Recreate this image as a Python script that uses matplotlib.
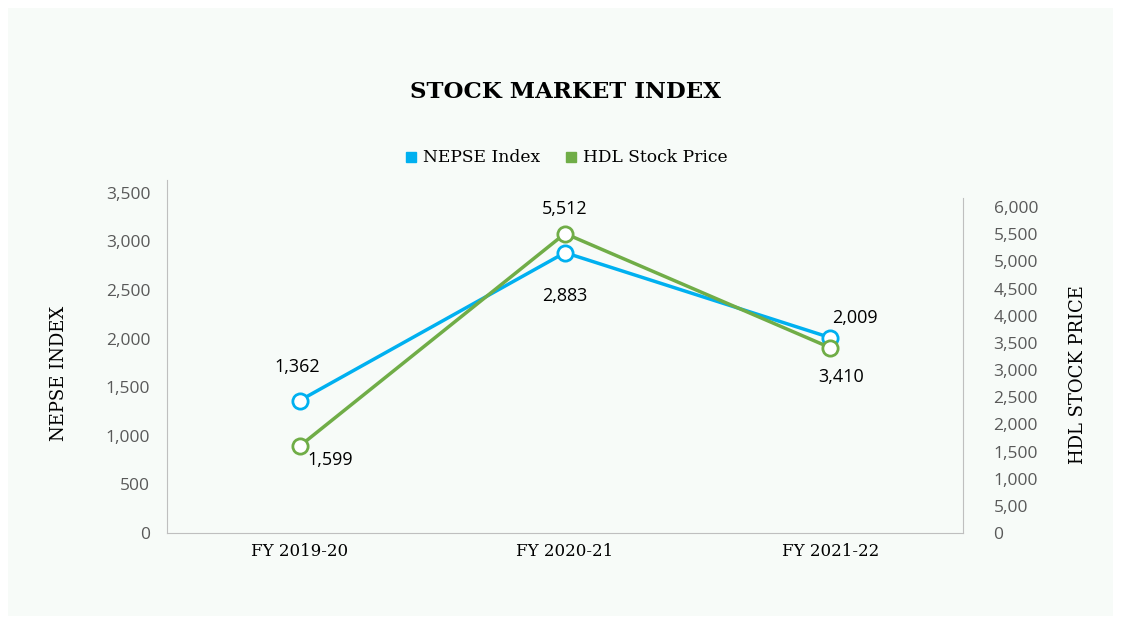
import matplotlib
matplotlib.use('Agg')
import matplotlib.pyplot as plt
from matplotlib.patches import Rectangle

# data
years = ['FY 2019-20', 'FY 2020-21', 'FY 2021-22']
nepse = [1362, 2883, 2009]
hdl = [1599, 5512, 3410]
left_ticks = [0, 500, 1000, 1500, 2000, 2500, 3000, 3500]
right_ticks = [0, 500, 1000, 1500, 2000, 2500, 3000, 3500, 4000, 4500, 5000, 5500, 6000]
right_ticklabels = ['0', '5,00', '1,000', '1,500', '2,000', '2,500', '3,000', '3,500',
                    '4,000', '4,500', '5,000', '5,500', '6,000']

blue = '#00b0f0'
green = '#70ad47'
grey = '#595959'
serif = 'DejaVu Serif'
sans = 'Open Sans'

fig = plt.figure(figsize=(11.21, 6.24), dpi=100)
fig.patch.set_facecolor('white')
fig.patches.append(Rectangle((8 / 1121, 8 / 624), 1105 / 1121, 608 / 624, transform=fig.transFigure,
                             facecolor='#f7fbf8', edgecolor='none', zorder=-10))

ax = fig.add_axes([167 / 1121, 91 / 624, 796 / 1121, 353 / 624])
ax.set_facecolor('none')
ax2 = ax.twinx()

x = list(range(len(years)))
ax.set_xlim(-0.5, 2.5)
ax.set_ylim(0, 3630)
ax2.set_ylim(0, 6497)

ax.plot(x, nepse, color=blue, lw=2.5, marker='o', ms=11, mfc='white', mec=blue, mew=2, zorder=3)
ax2.plot(x, hdl, color=green, lw=2.5, marker='o', ms=11, mfc='white', mec=green, mew=2, zorder=3)

# labels on points
nepse_off = [(-2, 24), (0, -31), (18, 14)]
hdl_off = [(22, -10), (0, 18), (8, -21)]
for i, v in enumerate(nepse):
    ax.annotate(f'{v:,}', (i, v), xytext=nepse_off[i], textcoords='offset points',
                ha='center', va='center', fontsize=13, family=sans, color='black')
for i, v in enumerate(hdl):
    ax2.annotate(f'{v:,}', (i, v), xytext=hdl_off[i], textcoords='offset points',
                 ha='center', va='center', fontsize=13, family=sans, color='black')

for a in (ax, ax2):
    for s in a.spines.values():
        s.set_color('#bfbfbf')
    a.tick_params(length=0)
ax.spines['top'].set_visible(False)
ax.spines['right'].set_visible(False)
ax2.spines['top'].set_visible(False)
ax2.spines['left'].set_visible(False)
ax2.spines['bottom'].set_visible(False)
ax2.spines['right'].set_bounds(0, 6166)

ax.set_xticks(x)
ax.set_xticklabels(years, family=serif, fontsize=12, color='black')
ax.tick_params(axis='x', pad=7)
ax.set_yticks(left_ticks)
ax.set_yticklabels([f'{t:,}' for t in left_ticks], family=sans, fontsize=12.5, color=grey)
ax.tick_params(axis='y', pad=12)
ax2.set_yticks(right_ticks)
ax2.set_yticklabels(right_ticklabels, family=sans, fontsize=12.5, color=grey)
ax2.tick_params(axis='y', pad=22)

ax.set_ylabel('NEPSE INDEX', family=serif, fontsize=13)
ax.yaxis.set_label_coords(-0.124, 0.453)
ax2.set_ylabel('HDL STOCK PRICE', family=serif, fontsize=13, rotation=90)
ax2.yaxis.set_label_coords(1.133, 0.448)

fig.text(566 / 1121, 1 - 92 / 624, 'STOCK MARKET INDEX', ha='center', va='center',
         family=serif, fontweight='bold', fontsize=16.5)

# legend
h1 = plt.Line2D([], [], ls='none', marker='s', ms=7.5, color=blue, label='NEPSE Index')
h2 = plt.Line2D([], [], ls='none', marker='s', ms=7.5, color=green, label='HDL Stock Price')
fig.legend(handles=[h1, h2], loc='center', bbox_to_anchor=(566 / 1121, 1 - 158 / 624), ncol=2,
           frameon=False, prop={'family': serif, 'size': 12.3}, handlelength=0.8,
           handletextpad=0.3, columnspacing=1.4)

fig.savefig('out.png', dpi=100)
